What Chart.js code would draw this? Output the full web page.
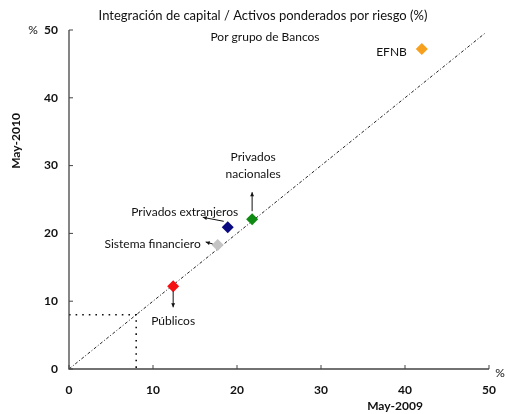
<!DOCTYPE html>
<html>
<head>
<meta charset="utf-8">
<script src="https://cdn.jsdelivr.net/npm/chart.js@4"></script>
<style>
  html, body { margin: 0; padding: 0; background: #fff; }
  #wrap { width: 505px; height: 414px; }
</style>
</head>
<body>
<div id="wrap"><canvas id="chart"></canvas></div>
<script>
// values (May-2009 on x, May-2010 on y)
const groups = ["EFNB", "Privados nacionales", "Privados extranjeros", "Sistema financiero", "Públicos"];
const may2009 = [42.0, 21.8, 18.9, 17.7, 12.4];
const may2010 = [47.2, 22.1, 20.9, 18.3, 12.2];
const tickValues = [0, 10, 20, 30, 40, 50];
const minimum = 8;

const colors = ["#f7a01e", "#0f8a12", "#0a0a80", "#c4c4c4", "#f41010"];
const font = "Lato, 'Open Sans', sans-serif";

// label placement per group: text lines, offset from point, arrow
const labelSetup = [
  { lines: ["EFNB"], dx: -15, dy: 3, align: "right", arrow: null },
  { lines: ["Privados", "nacionales"], dx: 1, dy: -62, align: "center", arrow: [0, -8, 0, -27] },
  { lines: ["Privados extranjeros"], dx: -43, dy: -15, align: "center", arrow: [-4, -6, -25, -10] },
  { lines: ["Sistema financiero"], dx: -17, dy: -1, align: "right", arrow: [-5, -1, -12, -3] },
  { lines: ["Públicos"], dx: 0, dy: 35, align: "center", arrow: [0, 5, 0, 21] }
];

const points = groups.map((g, i) => ({ x: may2009[i], y: may2010[i] }));

const extras = {
  id: "extras",
  afterDraw(chart) {
    const ctx = chart.ctx;
    const xs = chart.scales.x, ys = chart.scales.y;
    const left = xs.left, bottom = ys.bottom;
    ctx.save();

    // axis lines
    ctx.strokeStyle = "#444";
    ctx.lineWidth = 1.3;
    ctx.beginPath();
    ctx.moveTo(left, ys.top);
    ctx.lineTo(left, bottom);
    ctx.lineTo(xs.right, bottom);
    ctx.stroke();

    // inward ticks
    ctx.lineWidth = 1;
    tickValues.forEach(v => {
      const px = xs.getPixelForValue(v);
      ctx.beginPath(); ctx.moveTo(px, bottom); ctx.lineTo(px, bottom - 4); ctx.stroke();
      const py = ys.getPixelForValue(v);
      ctx.beginPath(); ctx.moveTo(left, py); ctx.lineTo(left + 4, py); ctx.stroke();
    });

    // tick labels
    ctx.fillStyle = "#111";
    ctx.font = "bold 12px " + font;
    ctx.textBaseline = "middle";
    ctx.textAlign = "right";
    tickValues.forEach(v => ctx.fillText(String(v), left - 11, ys.getPixelForValue(v)));
    ctx.textAlign = "center";
    tickValues.forEach(v => ctx.fillText(String(v), xs.getPixelForValue(v), bottom + 21));

    // axis titles
    ctx.fillText("May-2009", 395, 406);
    ctx.save();
    ctx.translate(16, 141);
    ctx.rotate(-Math.PI / 2);
    ctx.fillText("May-2010", 0, 0);
    ctx.restore();

    ctx.font = "12px " + font;
    ctx.fillText("%", 33, ys.getPixelForValue(50));
    ctx.fillText("%", 500, bottom + 4);

    // titles
    ctx.font = "13px " + font;
    ctx.fillText("Integración de capital / Activos ponderados por riesgo (%)", 263, 16);
    ctx.font = "12px " + font;
    ctx.fillText("Por grupo de Bancos", 265, 37);

    // point labels and arrows
    const meta = chart.getDatasetMeta(0);
    ctx.font = "12px " + font;
    meta.data.forEach((el, i) => {
      const s = labelSetup[i];
      ctx.fillStyle = "#111";
      ctx.textAlign = s.align;
      s.lines.forEach((t, k) => ctx.fillText(t, el.x + s.dx, el.y + s.dy + k * 17));
      if (s.arrow) {
        const [x1, y1, x2, y2] = s.arrow;
        const ax = el.x + x1, ay = el.y + y1, bx = el.x + x2, by = el.y + y2;
        ctx.strokeStyle = "#111";
        ctx.lineWidth = 1;
        ctx.beginPath(); ctx.moveTo(ax, ay); ctx.lineTo(bx, by); ctx.stroke();
        const ang = Math.atan2(by - ay, bx - ax);
        ctx.beginPath();
        ctx.moveTo(bx, by);
        ctx.lineTo(bx - 4.5 * Math.cos(ang - 0.45), by - 4.5 * Math.sin(ang - 0.45));
        ctx.lineTo(bx - 4.5 * Math.cos(ang + 0.45), by - 4.5 * Math.sin(ang + 0.45));
        ctx.closePath();
        ctx.fillStyle = "#111";
        ctx.fill();
      }
    });
    ctx.restore();
  }
};

new Chart(document.getElementById("chart"), {
  type: "scatter",
  data: {
    datasets: [
      {
        data: points,
        pointStyle: "rectRot",
        pointRadius: 6,
        pointHoverRadius: 6,
        backgroundColor: colors,
        borderColor: colors,
        borderWidth: 0,
        order: 0
      },
      {
        data: [{ x: 0, y: 0 }, { x: 49.5, y: 49.5 }],
        showLine: true,
        borderColor: "#222",
        borderWidth: 1,
        borderDash: [3, 2, 1, 2],
        pointRadius: 0,
        order: 1
      },
      {
        data: [{ x: 0, y: minimum }, { x: minimum, y: minimum }, { x: minimum, y: 0 }],
        showLine: true,
        borderColor: "#111",
        borderWidth: 1.6,
        borderDash: [1.6, 5],
        pointRadius: 0,
        order: 2
      }
    ]
  },
  options: {
    responsive: true,
    maintainAspectRatio: false,
    animation: false,
    layout: { padding: { top: 30, right: 16, left: 0, bottom: 0 } },
    plugins: { legend: { display: false }, tooltip: { enabled: false } },
    scales: {
      x: {
        type: "linear", min: 0, max: 50,
        grid: { display: false }, border: { display: false },
        ticks: { display: false, stepSize: 10 },
        afterFit(s) { s.height = 45; }
      },
      y: {
        type: "linear", min: 0, max: 50,
        grid: { display: false }, border: { display: false },
        ticks: { display: false, stepSize: 10 },
        afterFit(s) { s.width = 69; }
      }
    }
  },
  plugins: [extras]
});
</script>
</body>
</html>
